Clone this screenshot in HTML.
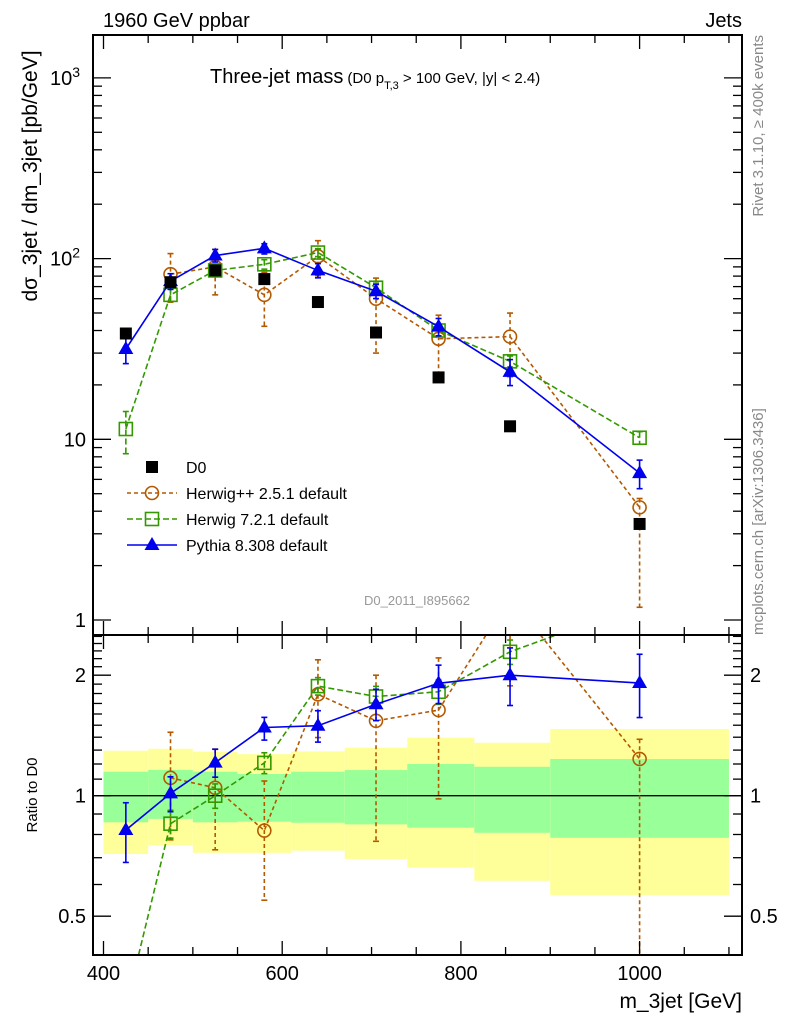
<!DOCTYPE html>
<html><head><meta charset="utf-8"><style>
body{margin:0;background:#fff;}
svg{display:block;font-family:"Liberation Sans",sans-serif;}
</style></head><body>
<svg id="chart" width="786" height="1024" viewBox="0 0 786 1024" xmlns="http://www.w3.org/2000/svg">
<defs>
<clipPath id="clipMain"><rect x="93" y="35" width="649" height="600"/></clipPath>
<clipPath id="clipRatio"><rect x="93" y="635" width="649" height="320"/></clipPath>
</defs>
<g id="bands" clip-path="url(#clipRatio)"></g>
<g id="series"></g>
<g id="axes"></g>
<text x="103" y="27" font-size="20">1960 GeV ppbar</text>
<text x="742" y="27" font-size="20" text-anchor="end">Jets</text>
<text x="210" y="83" font-size="20">Three-jet mass<tspan font-size="15" dx="4">(D0 p</tspan><tspan font-size="11" dy="6">T,3</tspan><tspan font-size="15" dy="-6"> &gt; 100 GeV, |y| &lt; 2.4)</tspan></text>
<text transform="translate(37,176) rotate(-90)" font-size="21" text-anchor="middle">dσ_3jet / dm_3jet [pb/GeV]</text>
<text transform="translate(37,795) rotate(-90)" font-size="15" text-anchor="middle">Ratio to D0</text>
<text x="742" y="1008" font-size="21" text-anchor="end">m_3jet [GeV]</text>
<text transform="translate(763,35) rotate(-90)" font-size="15" fill="#888" text-anchor="end">Rivet 3.1.10, ≥ 400k events</text>
<text transform="translate(763,635) rotate(-90)" font-size="15" fill="#888">mcplots.cern.ch [arXiv:1306.3436]</text>
<text x="417" y="605" font-size="13" fill="#999" text-anchor="middle">D0_2011_I895662</text>
<g id="legend"></g>
</svg>
<script>
const xVals=[425,475,525,580,640,705,775,855,1000];
const binEdges=[400,450,500,550,610,670,740,815,900,1100];
const d0=[38.5,74,86,77,57.5,39,22,11.8,3.4];
const pythia=[31.6,75,104,114,86,66,42,23.6,6.5];
const pythiaRelUp=[0.17,0.10,0.08,0.06,0.09,0.09,0.11,0.17,0.18];
const pythiaRelDn=[0.17,0.10,0.08,0.07,0.09,0.09,0.11,0.16,0.18];
const herwigpp=[null,82,90,63,103,60,36,37,4.2];
const herwigppRelUp=[0,0.30,0.25,0.33,0.22,0.30,0.35,0.35,0.12];
const herwigppRelDn=[0,0.30,0.30,0.33,0.22,0.50,0.40,0.40,0.72];
const herwig7=[11.4,63,86,93,108,69,40,27,10.2];
const herwig7RelUp=[0.25,0.08,0.07,0.06,0.05,0.06,0.07,0.07,0.08];
const herwig7RelDn=[0.27,0.08,0.07,0.06,0.05,0.06,0.07,0.07,0.08];
const bandYellowUp=[1.295,1.31,1.288,1.27,1.29,1.318,1.396,1.356,1.468];
const bandGreenUp=[1.148,1.16,1.148,1.133,1.148,1.159,1.2,1.181,1.235];
const bandGreenDn=[0.858,0.875,0.858,0.861,0.856,0.848,0.832,0.808,0.785];
const bandYellowDn=[0.715,0.753,0.72,0.72,0.729,0.695,0.661,0.613,0.565];
const xTicks=[400,600,800,1000];

const NS="http://www.w3.org/2000/svg";
const X=v=>103.5+(v-400)*0.8935;
const Y=v=>620-180.7*Math.log10(v);
const R=v=>795.7-120.5*Math.log2(v);
function mk(tag,attrs,parent){const e=document.createElementNS(NS,tag);for(const k in attrs)e.setAttribute(k,attrs[k]);parent.appendChild(e);return e;}
const bands=document.getElementById('bands'),series=document.getElementById('series'),axes=document.getElementById('axes'),legend=document.getElementById('legend');

for(let i=0;i<xVals.length;i++){
  const x0=X(binEdges[i]),x1=X(binEdges[i+1]);
  const y1=mk('rect',{x:x0,y:R(bandYellowUp[i]),width:x1-x0,height:R(bandYellowDn[i])-R(bandYellowUp[i]),fill:'#ffff99'},bands);
  
  
  const g1=mk('rect',{x:x0,y:R(bandGreenUp[i]),width:x1-x0,height:R(bandGreenDn[i])-R(bandGreenUp[i]),fill:'#99ff99'},bands);
  
  
}
const one=mk('line',{x1:93,x2:742,y1:R(1),y2:R(1),stroke:'#000','stroke-width':1.3},bands);



function marker(type,x,y,color,g){
  if(type==='sq') return mk('rect',{x:x-6,y:y-6,width:12,height:12,fill:'#000'},g);
  if(type==='osq') return mk('rect',{x:x-6.5,y:y-6.5,width:13,height:13,fill:'none',stroke:color,'stroke-width':1.6},g);
  if(type==='circ') return mk('circle',{cx:x,cy:y,r:6.5,fill:'none',stroke:color,'stroke-width':1.6},g);
  if(type==='tri') return mk('path',{d:`M${x},${y-8} L${x+7.5},${y+5} L${x-7.5},${y+5} Z`,fill:color},g);
}
function drawSeries(name,vals,up,dn,color,dash,type,yf,ref,clip){
  const g=mk('g',{'clip-path':`url(#${clip})`},series);
  
  
  const pts=[];
  vals.forEach((v,i)=>{if(v==null)return;const r=ref?v/ref[i]:v;pts.push([X(xVals[i]),yf(r),r,i]);});
  const pl=mk('polyline',{points:pts.map(p=>p[0]+','+p[1]).join(' '),fill:'none',stroke:color,'stroke-width':1.6,'stroke-dasharray':dash},g);
  
  
  pts.forEach(([x,y,r,i])=>{
    const yt=yf(r*(1+up[i])),yb=yf(r*(1-dn[i]));
    mk('line',{x1:x,x2:x,y1:yt,y2:yb,stroke:color,'stroke-width':1.6,'stroke-dasharray':dash},g);
    mk('line',{x1:x-3,x2:x+3,y1:yt,y2:yt,stroke:color,'stroke-width':1.6},g);
    mk('line',{x1:x-3,x2:x+3,y1:yb,y2:yb,stroke:color,'stroke-width':1.6},g);
    const m=marker(type,x,y,color,g);
    
    
  });
}
drawSeries('herwigpp-main',herwigpp,herwigppRelUp,herwigppRelDn,'#b35900','4,3','circ',Y,null,'clipMain');
drawSeries('herwig7-main',herwig7,herwig7RelUp,herwig7RelDn,'#339900','6,3','osq',Y,null,'clipMain');
drawSeries('pythia-main',pythia,pythiaRelUp,pythiaRelDn,'#0000ee','none','tri',Y,null,'clipMain');
const dg=mk('g',{},series);


d0.forEach((v,i)=>{const m=marker('sq',X(xVals[i]),Y(v),'#000',dg);
  
  });
drawSeries('herwigpp-ratio',herwigpp,herwigppRelUp,herwigppRelDn,'#b35900','4,3','circ',R,d0,'clipRatio');
drawSeries('herwig7-ratio',herwig7,herwig7RelUp,herwig7RelDn,'#339900','6,3','osq',R,d0,'clipRatio');
drawSeries('pythia-ratio',pythia,pythiaRelUp,pythiaRelDn,'#0000ee','none','tri',R,d0,'clipRatio');

[[35,600,'main-plot-frame'],[635,320,'ratio-plot-frame']].forEach(([y,h,n])=>{
  const r=mk('rect',{x:93,y:y,width:649,height:h,fill:'none',stroke:'#000','stroke-width':2},axes);
  
  
});
for(let v=400;v<=1100;v+=50){
  const x=X(v),L=(v%200===0)?14:8;
  [35,635].forEach(y=>mk('line',{x1:x,x2:x,y1:y,y2:y+L,stroke:'#000','stroke-width':1.3},axes));
  [635,955].forEach(y=>mk('line',{x1:x,x2:x,y1:y,y2:y-L,stroke:'#000','stroke-width':1.3},axes));
}
xTicks.forEach(v=>{const t=mk('text',{x:X(v),y:980,'font-size':20,'text-anchor':'middle'},axes);t.textContent=v;
  
  });
for(let d=0;d<=3;d++){for(let k=1;k<=9;k++){const v=k*Math.pow(10,d);const y=Y(v);if(y<35||y>635)continue;const L=k===1?18:9;
  mk('line',{x1:93,x2:93+L,y1:y,y2:y,stroke:'#000','stroke-width':1.3},axes);
  mk('line',{x1:742,x2:742-L,y1:y,y2:y,stroke:'#000','stroke-width':1.3},axes);}}
const mainLabels=[[1,'1'],[10,'10'],[100,'10<tspan dy="-8" font-size="14">2</tspan>'],[1000,'10<tspan dy="-8" font-size="14">3</tspan>']];
mainLabels.forEach(([v,s])=>{const t=mk('text',{x:v>=100?80:86,y:Y(v)+7,'font-size':20,'text-anchor':'end'},axes);t.innerHTML=s;
  
  });
[0.4,0.5,0.6,0.7,0.8,0.9,1,1.1,1.2,1.3,1.4,1.5,1.6,1.7,1.8,1.9,2,2.1,2.2,2.3,2.4,2.5].forEach(v=>{const y=R(v);if(y<635||y>955)return;
  const L=(v===0.5||v===1||v===2)?18:9;
  mk('line',{x1:93,x2:93+L,y1:y,y2:y,stroke:'#000','stroke-width':1.3},axes);
  mk('line',{x1:742,x2:742-L,y1:y,y2:y,stroke:'#000','stroke-width':1.3},axes);});
[[0.5,'0.5'],[1,'1'],[2,'2']].forEach(([v,s])=>{
  const t=mk('text',{x:86,y:R(v)+7,'font-size':20,'text-anchor':'end'},axes);t.textContent=s;
  
  
  const t2=mk('text',{x:750,y:R(v)+7,'font-size':20},axes);t2.textContent=s;
  
  });
const leg=[['D0','sq','#000','none'],['Herwig++ 2.5.1 default','circ','#b35900','4,3'],['Herwig 7.2.1 default','osq','#339900','6,3'],['Pythia 8.308 default','tri','#0000ee','none']];
leg.forEach(([lab,type,c,dash],i)=>{
  const y=467+i*26;
  const g=mk('g',{},legend);
  
  
  if(type!=='sq') mk('line',{x1:127,x2:177,y1:y,y2:y,stroke:c,'stroke-width':1.6,'stroke-dasharray':dash},g);
  marker(type,152,y,c,g);
  const t=mk('text',{x:186,y:y+6,'font-size':16},g);t.textContent=lab;
});
</script>
</body></html>
